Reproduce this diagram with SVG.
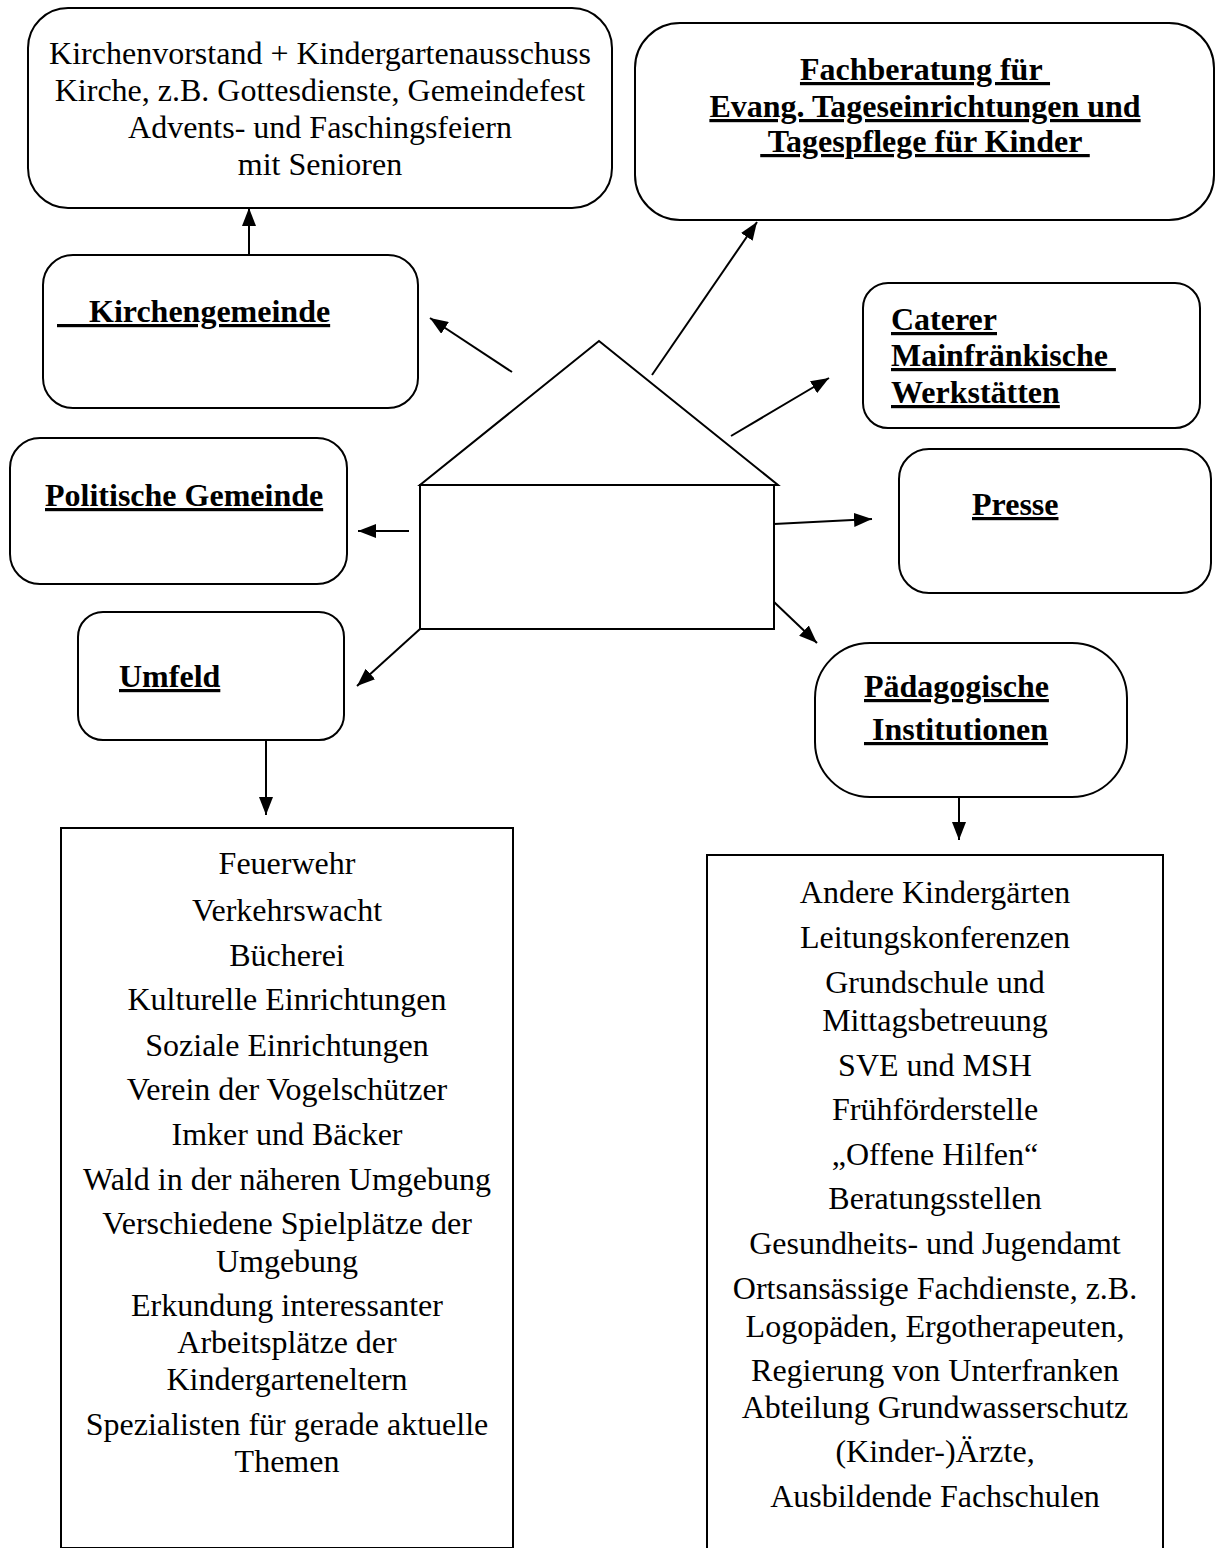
<svg xmlns="http://www.w3.org/2000/svg" width="1216" height="1548" viewBox="0 0 1216 1548">
<defs>
<marker id="ah" markerUnits="userSpaceOnUse" markerWidth="18" markerHeight="14" refX="18" refY="7" orient="auto">
<path d="M0,0 L18,7 L0,14 z" fill="#000"/>
</marker>
<style>
.box{fill:#fff;stroke:#000;stroke-width:2}
.t{font-family:"Liberation Serif","Times New Roman",serif;font-size:32px;fill:#000}
.b{font-family:"Liberation Serif","Times New Roman",serif;font-size:32px;font-weight:bold;fill:#000;text-decoration:underline;white-space:pre}
.c{text-anchor:middle}
.ar{stroke:#000;stroke-width:2;fill:none;marker-end:url(#ah)}
</style>
</defs>
<rect width="1216" height="1548" fill="#fff"/>

<g id="kirchenvorstand">
<rect class="box" x="28" y="8" width="584" height="200" rx="40"/>
<text class="t c" x="320" y="64">Kirchenvorstand + Kindergartenausschuss</text>
<text class="t c" x="320" y="101">Kirche, z.B. Gottesdienste, Gemeindefest</text>
<text class="t c" x="320" y="138">Advents- und Faschingsfeiern</text>
<text class="t c" x="320" y="175">mit Senioren</text>
</g>

<g id="fachberatung">
<rect class="box" x="635" y="23" width="579" height="197" rx="45"/>
<text class="b c" x="925" y="80">Fachberatung für </text>
<text class="b c" x="925" y="117">Evang. Tageseinrichtungen und</text>
<text class="b c" x="925" y="152"> Tagespflege für Kinder </text>
</g>

<g id="kirchengemeinde">
<rect class="box" x="43" y="255" width="375" height="153" rx="30"/>
<text class="b" x="57" y="322">    Kirchengemeinde</text>
</g>

<g id="caterer">
<rect class="box" x="863" y="283" width="337" height="145" rx="25"/>
<text class="b" x="891" y="330">Caterer</text>
<text class="b" x="891" y="366">Mainfränkische </text>
<text class="b" x="891" y="403">Werkstätten</text>
</g>

<g id="politische">
<rect class="box" x="10" y="438" width="337" height="146" rx="30"/>
<text class="b" x="45" y="506">Politische Gemeinde</text>
</g>

<g id="presse">
<rect class="box" x="899" y="449" width="312" height="144" rx="30"/>
<text class="b" x="972" y="515">Presse</text>
</g>

<g id="umfeld">
<rect class="box" x="78" y="612" width="266" height="128" rx="25"/>
<text class="b" x="119" y="687">Umfeld</text>
</g>

<g id="paedagogische">
<rect class="box" x="815" y="643" width="312" height="154" rx="55"/>
<text class="b" x="864" y="697">Pädagogische</text>
<text class="b" x="864" y="740"> Institutionen</text>
</g>

<g id="haus">
<polygon points="599,341 420,485 778,485" fill="#fff" stroke="#000" stroke-width="2"/>
<rect x="420" y="485" width="354" height="144" fill="#fff" stroke="#000" stroke-width="2"/>
</g>

<g id="umfeld-liste">
<rect x="61" y="828" width="452" height="720" fill="#fff" stroke="#000" stroke-width="2"/>
<text class="t c" x="287" y="874">Feuerwehr</text>
<text class="t c" x="287" y="921">Verkehrswacht</text>
<text class="t c" x="287" y="966">Bücherei</text>
<text class="t c" x="287" y="1010">Kulturelle Einrichtungen</text>
<text class="t c" x="287" y="1056">Soziale Einrichtungen</text>
<text class="t c" x="287" y="1100">Verein der Vogelschützer</text>
<text class="t c" x="287" y="1145">Imker und Bäcker</text>
<text class="t c" x="287" y="1190">Wald in der näheren Umgebung</text>
<text class="t c" x="287" y="1234">Verschiedene Spielplätze der</text>
<text class="t c" x="287" y="1272">Umgebung</text>
<text class="t c" x="287" y="1316">Erkundung interessanter</text>
<text class="t c" x="287" y="1353">Arbeitsplätze der</text>
<text class="t c" x="287" y="1390">Kindergarteneltern</text>
<text class="t c" x="287" y="1435">Spezialisten für gerade aktuelle</text>
<text class="t c" x="287" y="1472">Themen</text>
</g>

<g id="paed-liste">
<rect x="707" y="855" width="456" height="710" fill="#fff" stroke="#000" stroke-width="2"/>
<text class="t c" x="935" y="903">Andere Kindergärten</text>
<text class="t c" x="935" y="948">Leitungskonferenzen</text>
<text class="t c" x="935" y="993">Grundschule und</text>
<text class="t c" x="935" y="1031">Mittagsbetreuung</text>
<text class="t c" x="935" y="1076">SVE und MSH</text>
<text class="t c" x="935" y="1120">Frühförderstelle</text>
<text class="t c" x="935" y="1165">„Offene Hilfen“</text>
<text class="t c" x="935" y="1209">Beratungsstellen</text>
<text class="t c" x="935" y="1254">Gesundheits- und Jugendamt</text>
<text class="t c" x="935" y="1299">Ortsansässige Fachdienste, z.B.</text>
<text class="t c" x="935" y="1337">Logopäden, Ergotherapeuten,</text>
<text class="t c" x="935" y="1381">Regierung von Unterfranken</text>
<text class="t c" x="935" y="1418">Abteilung Grundwasserschutz</text>
<text class="t c" x="935" y="1462">(Kinder-)Ärzte,</text>
<text class="t c" x="935" y="1507">Ausbildende Fachschulen</text>
</g>

<g id="connectors">
<line class="ar" x1="249" y1="255" x2="249" y2="208"/>
<line class="ar" x1="512" y1="372" x2="430" y2="318"/>
<line class="ar" x1="652" y1="375" x2="757" y2="222"/>
<line class="ar" x1="731" y1="436" x2="829" y2="378"/>
<line class="ar" x1="409" y1="531" x2="358" y2="531"/>
<line class="ar" x1="774" y1="524" x2="872" y2="519"/>
<line class="ar" x1="420" y1="629" x2="357" y2="686"/>
<line class="ar" x1="774" y1="602" x2="817" y2="643"/>
<line class="ar" x1="266" y1="740" x2="266" y2="815"/>
<line class="ar" x1="959" y1="797" x2="959" y2="840"/>
</g>
</svg>
